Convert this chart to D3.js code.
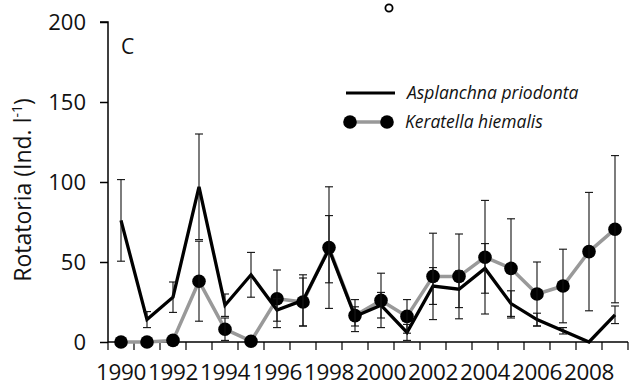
<!DOCTYPE html>
<html>
<head>
<meta charset="utf-8">
<script src="https://cdn.jsdelivr.net/npm/d3@7/dist/d3.min.js"></script>
<style>
  html, body { margin: 0; padding: 0; background: #fff; }
  svg { display: block; font-family: "Open Sans", sans-serif; }
</style>
</head>
<body>
<svg id="chart" width="633" height="387"></svg>
<script>
// Annual means of two rotifer species with standard deviations
const years = [1990, 1991, 1992, 1993, 1994, 1995, 1996, 1997, 1998, 1999,
               2000, 2001, 2002, 2003, 2004, 2005, 2006, 2007, 2008, 2009];
const asplanchna    = [76, 14, 28, 97, 23, 42, 20, 26, 58, 16, 23, 6, 35, 33, 46, 24, 14, 7, 0, 17];
const asplanchnaErr = [25.5, 5, 9.5, 33, 7, 14, 7, 16, 21, 6, 8, 5, 11.5, 11.5, 15.5, 8, 4, 2, 0, 5.5];
const keratella     = [0, 0, 1, 38, 8, 0.5, 27, 25, 59, 16.5, 26, 16, 41, 41, 53, 46, 30, 35, 56.5, 70.5];
const keratellaErr  = [0, 0, 0, 25, 7, 0, 18, 15, 38, 10, 17, 10.5, 27, 26.5, 35.5, 31, 20, 23, 37, 46];
const yTicks = [0, 50, 100, 150, 200];
const labelYears = [1990, 1992, 1994, 1996, 1998, 2000, 2002, 2004, 2006, 2008];
const seriesNames = ["Asplanchna priodonta", "Keratella hiemalis"];

const svg = d3.select("#chart");
const plotLeft = 108, plotRight = 628, plotTop = 22, plotBottom = 342;

const x = d3.scaleBand().domain(years).range([plotLeft, plotRight]).padding(0);
const y = d3.scaleLinear().domain([0, 200]).range([plotBottom, plotTop]);
const cx = d => x(d) + x.bandwidth() / 2;

// Y axis
const yAxis = svg.append("g")
  .attr("transform", `translate(${plotLeft},0)`)
  .call(d3.axisLeft(y).tickValues(yTicks).tickSize(8).tickPadding(14).tickFormat(d3.format("d")));
yAxis.selectAll("path, line").attr("stroke", "#000").attr("stroke-width", 1.5);
yAxis.selectAll("text").attr("font-size", 22).attr("font-family", "Open Sans, sans-serif").attr("fill", "#111");
yAxis.select(".domain").attr("d", `M-8,${plotTop}H0V${plotBottom}`);

// X axis: tick marks between categories, labels on alternate years
const xAxis = svg.append("g")
  .attr("transform", `translate(0,${plotBottom})`)
  .call(d3.axisBottom(x).tickValues(labelYears).tickSize(0).tickPadding(22));
xAxis.select(".domain").attr("stroke", "#000").attr("stroke-width", 1.5)
  .attr("d", `M${plotLeft},0H${plotRight}`);
xAxis.selectAll("text").attr("font-size", 22.5).attr("letter-spacing", -0.3)
  .attr("font-family", "Open Sans, sans-serif").attr("fill", "#111");
const boundaries = years.map(d => x(d)).concat([x(years[years.length - 1]) + x.bandwidth()]);
xAxis.selectAll("line.sep").data(boundaries).join("line")
  .attr("class", "sep")
  .attr("x1", d => d).attr("x2", d => d)
  .attr("y1", 0).attr("y2", 8)
  .attr("stroke", "#000").attr("stroke-width", 1.2);

// Y axis title
svg.append("text")
  .attr("transform", `translate(31,${(plotTop + plotBottom) / 2 + 8}) rotate(-90)`)
  .attr("text-anchor", "middle")
  .attr("font-size", 23)
  .attr("fill", "#111")
  .call(t => {
    t.append("tspan").text("Rotatoria (Ind. l");
    t.append("tspan").attr("font-size", 14).attr("dy", -9).text("-1");
    t.append("tspan").attr("dy", 9).text(")");
  });

// Panel letter
svg.append("text").attr("x", 121).attr("y", 54).attr("font-size", 21).attr("fill", "#111").text("C");

// Open marker clipped at top of panel
svg.append("circle").attr("cx", 389).attr("cy", 8).attr("r", 3.6)
  .attr("fill", "#fff").attr("stroke", "#000").attr("stroke-width", 1.8);

const line = d3.line().x((d, i) => cx(years[i])).y(d => y(d));

// Keratella line
svg.append("path").datum(keratella)
  .attr("d", line).attr("fill", "none")
  .attr("stroke", "#999").attr("stroke-width", 3.5).attr("stroke-linejoin", "round");

// Asplanchna line
svg.append("path").datum(asplanchna)
  .attr("d", line).attr("fill", "none")
  .attr("stroke", "#000").attr("stroke-width", 3.3).attr("stroke-linejoin", "miter");

// Keratella markers
svg.append("g").selectAll("circle").data(keratella).join("circle")
  .attr("cx", (d, i) => cx(years[i])).attr("cy", d => y(d)).attr("r", 6.8)
  .attr("fill", "#000");

// Error bars
function errorBars(values, errs) {
  const g = svg.append("g").attr("stroke", "#111").attr("stroke-width", 1.1);
  values.forEach((v, i) => {
    const e = errs[i];
    if (!e) return;
    const xc = cx(years[i]);
    const y1 = y(v + e), y0 = y(Math.max(0, v - e));
    g.append("line").attr("x1", xc).attr("x2", xc).attr("y1", y1).attr("y2", y0);
    g.append("line").attr("x1", xc - 4).attr("x2", xc + 4).attr("y1", y1).attr("y2", y1);
    g.append("line").attr("x1", xc - 4).attr("x2", xc + 4).attr("y1", y0).attr("y2", y0);
  });
}
errorBars(asplanchna, asplanchnaErr);
errorBars(keratella, keratellaErr);

// Legend
const lg = svg.append("g");
lg.append("line").attr("x1", 346).attr("x2", 395).attr("y1", 93).attr("y2", 93)
  .attr("stroke", "#000").attr("stroke-width", 3);
lg.append("text").attr("x", 407).attr("y", 99).attr("font-size", 17.5)
  .attr("font-style", "italic").attr("fill", "#111").text(seriesNames[0]);
lg.append("line").attr("x1", 350).attr("x2", 387).attr("y1", 122).attr("y2", 122)
  .attr("stroke", "#999").attr("stroke-width", 3.5);
lg.selectAll("circle").data([350, 387]).join("circle")
  .attr("cx", d => d).attr("cy", 122).attr("r", 6.8).attr("fill", "#000");
lg.append("text").attr("x", 405).attr("y", 128).attr("font-size", 17.5)
  .attr("font-style", "italic").attr("fill", "#111").text(seriesNames[1]);
</script>
</body>
</html>
